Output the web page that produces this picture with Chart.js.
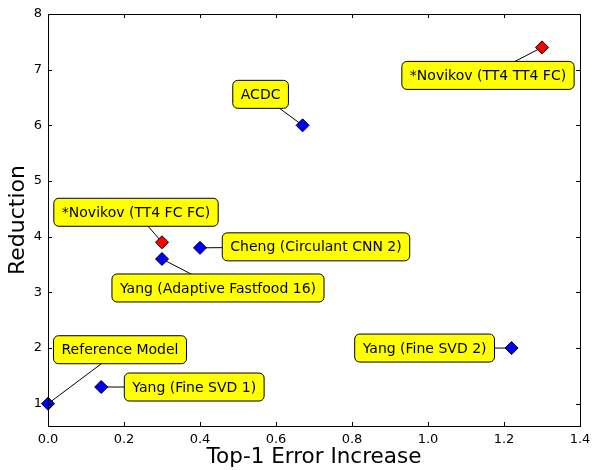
<!DOCTYPE html>
<html>
<head>
<meta charset="utf-8">
<script src="https://cdn.jsdelivr.net/npm/chart.js@4"></script>
<style>
  html, body { margin: 0; padding: 0; background: #fff; }
  #wrap { width: 593px; height: 470px; }
</style>
</head>
<body>
<div id="wrap"><canvas id="scatterChart"></canvas></div>
<script>
// dados
const names = ['Reference Model', 'Yang (Fine SVD 1)', 'Yang (Adaptive Fastfood 16)', '*Novikov (TT4 FC FC)',
               'Cheng (Circulant CNN 2)', 'ACDC', 'Yang (Fine SVD 2)', '*Novikov (TT4 TT4 FC)'];
const errorIncrease = [0.0, 0.14, 0.30, 0.30, 0.40, 0.67, 1.22, 1.30];
const reduction = [1.0, 1.3, 3.6, 3.9, 3.8, 6.0, 2.0, 7.4];
const isNovikov = [false, false, false, true, false, false, false, true];
const xTicks = [0.0, 0.2, 0.4, 0.6, 0.8, 1.0, 1.2, 1.4];
const yTicks = [1, 2, 3, 4, 5, 6, 7, 8];

// deslocamento das caixas de texto (pixels, centro da caixa relativo ao ponto)
const labelOffsets = [[72, -54], [93, 0], [56, 29], [-26, -30], [116, -1], [-42, -31], [-87, 0], [-54, 28]];

const FONT = "'DejaVu Sans', sans-serif";

const points = errorIncrease.map((x, i) => ({ x: x, y: reduction[i] }));

function roundRect(ctx, x, y, w, h, r) {
    ctx.beginPath();
    ctx.moveTo(x + r, y);
    ctx.lineTo(x + w - r, y);
    ctx.arcTo(x + w, y, x + w, y + r, r);
    ctx.lineTo(x + w, y + h - r);
    ctx.arcTo(x + w, y + h, x + w - r, y + h, r);
    ctx.lineTo(x + r, y + h);
    ctx.arcTo(x, y + h, x, y + h - r, r);
    ctx.lineTo(x, y + r);
    ctx.arcTo(x, y, x + r, y, r);
    ctx.closePath();
}

// caixas amarelas com setas (estilo annotate do matplotlib)
const annotationPlugin = {
    id: 'annotations',
    beforeDatasetsDraw(chart) {
        const ctx = chart.ctx;
        const xs = chart.scales.x, ys = chart.scales.y;
        ctx.save();
        ctx.strokeStyle = '#000';
        ctx.lineWidth = 1;
        names.forEach((n, i) => {
            const px = xs.getPixelForValue(errorIncrease[i]);
            const py = ys.getPixelForValue(reduction[i]);
            ctx.beginPath();
            ctx.moveTo(px, py);
            ctx.lineTo(px + labelOffsets[i][0], py + labelOffsets[i][1]);
            ctx.stroke();
        });
        ctx.restore();
    },
    afterDatasetsDraw(chart) {
        const ctx = chart.ctx;
        const xs = chart.scales.x, ys = chart.scales.y;
        ctx.save();
        ctx.font = '14px ' + FONT;
        ctx.textAlign = 'center';
        ctx.textBaseline = 'middle';
        names.forEach((n, i) => {
            const cx = xs.getPixelForValue(errorIncrease[i]) + labelOffsets[i][0];
            const cy = ys.getPixelForValue(reduction[i]) + labelOffsets[i][1];
            const w = ctx.measureText(n).width + 16;
            const h = 28;
            roundRect(ctx, cx - w / 2, cy - h / 2, w, h, 5);
            ctx.fillStyle = '#ffff00';
            ctx.fill();
            ctx.strokeStyle = '#000';
            ctx.lineWidth = 1;
            ctx.stroke();
            ctx.fillStyle = '#000';
            ctx.fillText(n, cx, cy + 1);
        });
        ctx.restore();
    }
};

// moldura e ticks para dentro
const framePlugin = {
    id: 'frame',
    afterDraw(chart) {
        const ctx = chart.ctx;
        const a = chart.chartArea;
        const xs = chart.scales.x, ys = chart.scales.y;
        ctx.save();
        ctx.strokeStyle = '#000';
        ctx.lineWidth = 1;
        ctx.strokeRect(Math.round(a.left) + 0.5, Math.round(a.top) + 0.5,
                       Math.round(a.right - a.left), Math.round(a.bottom - a.top));
        ctx.beginPath();
        xTicks.forEach(v => {
            const p = Math.round(xs.getPixelForValue(v)) + 0.5;
            ctx.moveTo(p, a.bottom); ctx.lineTo(p, a.bottom - 4);
            ctx.moveTo(p, a.top); ctx.lineTo(p, a.top + 4);
        });
        yTicks.forEach(v => {
            const p = Math.round(ys.getPixelForValue(v)) + 0.5;
            ctx.moveTo(a.left, p); ctx.lineTo(a.left + 4, p);
            ctx.moveTo(a.right, p); ctx.lineTo(a.right - 4, p);
        });
        ctx.stroke();
        ctx.restore();
    }
};

const ctx = document.getElementById('scatterChart').getContext('2d');
const chart = new Chart(ctx, {
    type: 'scatter',
    data: {
        datasets: [{
            data: points,
            pointStyle: 'rectRot',
            pointRadius: 6.5,
            pointHoverRadius: 6.5,
            pointBackgroundColor: isNovikov.map(r => r ? '#ff0000' : '#0000ff'),
            pointBorderColor: '#000',
            pointBorderWidth: 1,
            clip: false
        }]
    },
    options: {
        responsive: true,
        maintainAspectRatio: false,
        animation: false,
        layout: { padding: { top: 14, right: 13, left: 0, bottom: 0 } },
        plugins: {
            legend: { display: false },
            tooltip: { enabled: false }
        },
        scales: {
            x: {
                type: 'linear',
                min: 0,
                max: 1.4,
                afterBuildTicks: s => { s.ticks = xTicks.map(v => ({ value: v })); },
                afterFit: s => { s.height = 44; s.paddingLeft = 0; s.paddingRight = 0; },
                grid: { display: false, drawTicks: false },
                border: { display: false },
                ticks: {
                    color: '#000',
                    padding: 6,
                    maxRotation: 0,
                    font: { family: FONT, size: 13 },
                    callback: v => Number(v).toFixed(1)
                },
                title: {
                    display: true,
                    text: 'Top-1 Error Increase',
                    color: '#000',
                    padding: { top: 3, bottom: 0 },
                    font: { family: FONT, size: 21.5 }
                }
            },
            y: {
                type: 'linear',
                min: 0.6,
                max: 8,
                afterBuildTicks: s => { s.ticks = yTicks.map(v => ({ value: v })); },
                afterFit: s => { s.width = 48; s.paddingTop = 0; s.paddingBottom = 0; },
                grid: { display: false, drawTicks: false },
                border: { display: false },
                ticks: {
                    color: '#000',
                    padding: 6,
                    font: { family: FONT, size: 13 },
                    callback: v => String(v)
                },
                title: {
                    display: true,
                    text: 'Reduction',
                    color: '#000',
                    padding: { top: 5, bottom: 2 },
                    font: { family: FONT, size: 22 }
                }
            }
        }
    },
    plugins: [annotationPlugin, framePlugin]
});
</script>
</body>
</html>
